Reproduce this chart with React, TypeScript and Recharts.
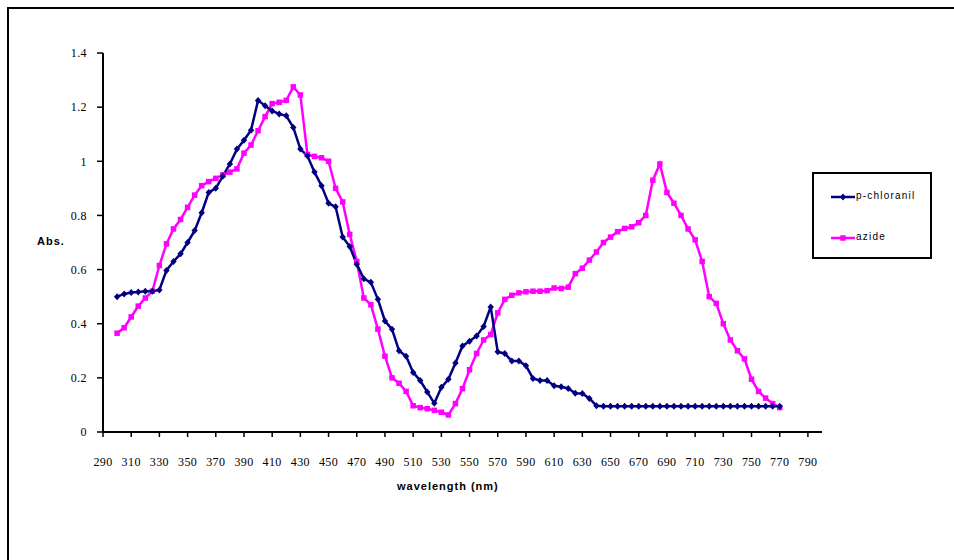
import React from "react";
import { LineChart, Line, XAxis, YAxis } from "recharts";

// wavelength (nm), one reading every 5 nm
const wavelengths = [
  300, 305, 310, 315, 320, 325, 330, 335, 340, 345,
  350, 355, 360, 365, 370, 375, 380, 385, 390, 395,
  400, 405, 410, 415, 420, 425, 430, 435, 440, 445,
  450, 455, 460, 465, 470, 475, 480, 485, 490, 495,
  500, 505, 510, 515, 520, 525, 530, 535, 540, 545,
  550, 555, 560, 565, 570, 575, 580, 585, 590, 595,
  600, 605, 610, 615, 620, 625, 630, 635, 640, 645,
  650, 655, 660, 665, 670, 675, 680, 685, 690, 695,
  700, 705, 710, 715, 720, 725, 730, 735, 740, 745,
  750, 755, 760, 765, 770,
];

const chloranil = [
  0.5, 0.51, 0.515, 0.517, 0.52, 0.52, 0.525, 0.597, 0.63, 0.658,
  0.7, 0.744, 0.81, 0.885, 0.9, 0.945, 0.99, 1.045, 1.078, 1.115,
  1.225, 1.205, 1.186, 1.175, 1.168, 1.125, 1.045, 1.02, 0.96, 0.91,
  0.845, 0.832, 0.72, 0.685, 0.62, 0.566, 0.553, 0.49, 0.41, 0.38,
  0.3, 0.28, 0.22, 0.19, 0.148, 0.106, 0.165, 0.195, 0.255, 0.318,
  0.335, 0.355, 0.39, 0.462, 0.296, 0.29, 0.262, 0.262, 0.245, 0.198,
  0.19, 0.19, 0.171, 0.167, 0.161, 0.143, 0.142, 0.124, 0.097, 0.095,
  0.095, 0.095, 0.095, 0.095, 0.095, 0.095, 0.095, 0.095, 0.095, 0.095,
  0.095, 0.095, 0.095, 0.095, 0.095, 0.095, 0.095, 0.095, 0.095, 0.095,
  0.095, 0.095, 0.095, 0.095, 0.095,
];

const azide = [
  0.365, 0.385, 0.425, 0.465, 0.495, 0.52, 0.615, 0.695, 0.75, 0.785,
  0.83, 0.875, 0.91, 0.925, 0.937, 0.95, 0.96, 0.972, 1.03, 1.06,
  1.113, 1.165, 1.213, 1.218, 1.225, 1.275, 1.245, 1.025, 1.018, 1.013,
  1.0, 0.9, 0.85, 0.73, 0.63, 0.495, 0.47, 0.38, 0.28, 0.2,
  0.18, 0.15, 0.097, 0.09, 0.086, 0.08, 0.073, 0.063, 0.105, 0.16,
  0.23, 0.29, 0.34, 0.36, 0.44, 0.49, 0.505, 0.514, 0.518, 0.52,
  0.52, 0.522, 0.532, 0.53, 0.535, 0.585, 0.605, 0.635, 0.665, 0.7,
  0.72, 0.74, 0.752, 0.758, 0.773, 0.8, 0.93, 0.99, 0.885, 0.845,
  0.8, 0.75, 0.71, 0.63, 0.5, 0.475, 0.4, 0.34, 0.3, 0.27,
  0.195, 0.15, 0.125, 0.105, 0.09,
];

const xTicks = [
  290, 310, 330, 350, 370, 390, 410, 430, 450, 470, 490, 510, 530,
  550, 570, 590, 610, 630, 650, 670, 690, 710, 730, 750, 770, 790,
];
const yTicks = [0, 0.2, 0.4, 0.6, 0.8, 1, 1.2, 1.4];

const data = wavelengths.map((wl, i) => ({
  wl,
  chloranil: chloranil[i],
  azide: azide[i],
}));

const NAVY = "#000080";
const MAGENTA = "#FF00FF";

function renderDiamond(props: any) {
  const { cx, cy, index } = props;
  if (cx == null || cy == null) return <g key={"d" + index} />;
  return (
    <path
      key={"d" + index}
      d={`M${cx},${cy - 3.5}L${cx + 3.2},${cy}L${cx},${cy + 3.5}L${cx - 3.2},${cy}Z`}
      fill={NAVY}
    />
  );
}

function renderSquare(props: any) {
  const { cx, cy, index } = props;
  if (cx == null || cy == null) return <g key={"s" + index} />;
  return <rect key={"s" + index} x={cx - 2.75} y={cy - 2.75} width={5.5} height={5.5} fill={MAGENTA} />;
}

const tickStyle = {
  fontSize: 12,
  fill: "#000",
  fontFamily: "'Liberation Serif', serif",
  letterSpacing: 0.4,
};
const boldLabel: React.CSSProperties = {
  position: "absolute",
  fontFamily: "'Liberation Sans', Arial, sans-serif",
  fontWeight: "bold",
  fontSize: 11,
  letterSpacing: 1,
  color: "#000",
  whiteSpace: "nowrap",
};

export default function App() {
  return (
    <div
      style={{
        position: "absolute",
        left: 0,
        top: 0,
        width: 954,
        height: 560,
        background: "#fff",
        overflow: "hidden",
      }}
    >
      <div
        style={{
          position: "absolute",
          left: 7,
          top: 7,
          width: 1000,
          height: 600,
          borderLeft: "2px solid #000",
          borderTop: "2px solid #000",
        }}
      />
      <div style={{ position: "absolute", left: 0, top: 0 }}>
        <LineChart
          width={954}
          height={560}
          data={data}
          margin={{ top: 53, right: 132, bottom: 98, left: 63 }}
        >
          <XAxis
            dataKey="wl"
            type="number"
            domain={[290, 800]}
            ticks={xTicks}
            interval={0}
            height={30}
            tickSize={5}
            tickMargin={20}
            tick={tickStyle}
            axisLine={{ stroke: "#000", strokeWidth: 2 }}
            tickLine={{ stroke: "#000", strokeWidth: 1.5 }}
          />
          <YAxis
            type="number"
            domain={[0, 1.4]}
            ticks={yTicks}
            interval={0}
            width={40}
            tickSize={6}
            tickMargin={10}
            tick={tickStyle}
            axisLine={{ stroke: "#000", strokeWidth: 2 }}
            tickLine={{ stroke: "#000", strokeWidth: 1.5 }}
          />
          <Line
            dataKey="azide"
            type="linear"
            stroke={MAGENTA}
            strokeWidth={2.5}
            dot={renderSquare}
            activeDot={false}
            isAnimationActive={false}
          />
          <Line
            dataKey="chloranil"
            type="linear"
            stroke={NAVY}
            strokeWidth={2.5}
            dot={renderDiamond}
            activeDot={false}
            isAnimationActive={false}
          />
        </LineChart>
      </div>

      <div style={{ ...boldLabel, left: 37, top: 235 }}>Abs.</div>
      <div style={{ ...boldLabel, left: 397, top: 480 }}>wavelength (nm)</div>

      <div
        style={{
          position: "absolute",
          left: 812,
          top: 172,
          width: 116,
          height: 83,
          border: "2px solid #000",
          background: "#fff",
          fontFamily: "'Liberation Sans', Arial, sans-serif",
          fontSize: 10,
          letterSpacing: 1.2,
          color: "#000",
        }}
      >
        <svg style={{ position: "absolute", left: 17, top: 19 }} width={24} height={8}>
          <line x1={0} y1={4} x2={24} y2={4} stroke={NAVY} strokeWidth={2.5} />
          <path d="M12,0.5L15,4L12,7.5L9,4Z" fill={NAVY} />
        </svg>
        <div style={{ position: "absolute", left: 42, top: 16, whiteSpace: "nowrap" }}>p-chloranil</div>
        <svg style={{ position: "absolute", left: 17, top: 60 }} width={24} height={8}>
          <line x1={0} y1={4} x2={24} y2={4} stroke={MAGENTA} strokeWidth={2.5} />
          <rect x={9.25} y={1.25} width={5.5} height={5.5} fill={MAGENTA} />
        </svg>
        <div style={{ position: "absolute", left: 42, top: 57, whiteSpace: "nowrap" }}>azide</div>
      </div>
    </div>
  );
}
